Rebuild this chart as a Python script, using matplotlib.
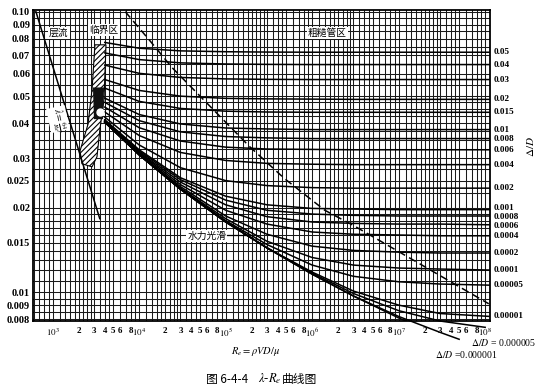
import matplotlib.pyplot as plt
from matplotlib.patches import Polygon
import matplotlib.transforms as mtransforms

plt.rcParams['font.family'] = ['Liberation Serif', 'Noto Sans CJK SC', 'DejaVu Sans']
plt.rcParams['mathtext.fontset'] = 'stix'
plt.rcParams['hatch.linewidth'] = 0.8

re_pts = [4e3, 1e4, 3e4, 1e5, 3e5, 1e6, 3e6, 1e7, 3e7, 1.15e8]

# friction factor for each relative roughness (Delta/D)
lam_05 = [0.0777, 0.0741, 0.0725, 0.0720, 0.0718, 0.0717, 0.0717, 0.0717, 0.0717, 0.0717]
lam_04 = [0.0713, 0.0675, 0.0657, 0.0651, 0.0649, 0.0648, 0.0648, 0.0648, 0.0648, 0.0648]
lam_03 = [0.0645, 0.0603, 0.0583, 0.0576, 0.0574, 0.0573, 0.0573, 0.0573, 0.0573, 0.0573]
lam_02 = [0.0573, 0.0524, 0.0500, 0.0491, 0.0489, 0.0488, 0.0487, 0.0487, 0.0487, 0.0487]
lam_015 = [0.0534, 0.0479, 0.0452, 0.0442, 0.0439, 0.0438, 0.0438, 0.0438, 0.0438, 0.0438]
lam_01 = [0.0492, 0.0430, 0.0398, 0.0385, 0.0382, 0.0380, 0.0380, 0.0380, 0.0380, 0.0380]
lam_008 = [0.0475, 0.0409, 0.0373, 0.0359, 0.0355, 0.0353, 0.0353, 0.0353, 0.0353, 0.0353]
lam_006 = [0.0457, 0.0386, 0.0346, 0.0329, 0.0324, 0.0323, 0.0322, 0.0322, 0.0322, 0.0322]
lam_004 = [0.0439, 0.0362, 0.0315, 0.0295, 0.0288, 0.0286, 0.0285, 0.0285, 0.0285, 0.0285]
lam_002 = [0.0421, 0.0335, 0.0278, 0.0250, 0.0240, 0.0236, 0.0235, 0.0235, 0.0235, 0.0235]
lam_001 = [0.0412, 0.0322, 0.0256, 0.0220, 0.0205, 0.0199, 0.0198, 0.0197, 0.0197, 0.0197]
lam_0008 = [0.0410, 0.0319, 0.0252, 0.0213, 0.0196, 0.0190, 0.0188, 0.0187, 0.0187, 0.0187]
lam_0006 = [0.0409, 0.0316, 0.0247, 0.0205, 0.0186, 0.0178, 0.0176, 0.0175, 0.0175, 0.0174]
lam_0004 = [0.0407, 0.0314, 0.0242, 0.0196, 0.0175, 0.0164, 0.0161, 0.0160, 0.0159, 0.0159]
lam_0002 = [0.0406, 0.0311, 0.0238, 0.0187, 0.0161, 0.0146, 0.0141, 0.0139, 0.0138, 0.0138]
lam_0001 = [0.0405, 0.0310, 0.0235, 0.0183, 0.0152, 0.0133, 0.0125, 0.0122, 0.0121, 0.0120]
lam_00005 = [0.0405, 0.0309, 0.0234, 0.0180, 0.0148, 0.0125, 0.0114, 0.0109, 0.0107, 0.0106]
lam_00001 = [0.0404, 0.0309, 0.0233, 0.0179, 0.0144, 0.0118, 0.0101, 0.0090, 0.0084, 0.0082]
lam_smooth = [0.0404, 0.0309, 0.0233, 0.0178, 0.0144, 0.0116, 0.0097, 0.0081, 0.0070, 0.0060]

rough_curves = [lam_05, lam_04, lam_03, lam_02, lam_015, lam_01, lam_008, lam_006,
                lam_004, lam_002, lam_001, lam_0008, lam_0006, lam_0004, lam_0002,
                lam_0001, lam_00005, lam_00001]
rough_labels = ['0.05', '0.04', '0.03', '0.02', '0.015', '0.01', '0.008', '0.006',
                '0.004', '0.002', '0.001', '0.0008', '0.0006', '0.0004', '0.0002',
                '0.0001', '0.00005', '0.00001']
# small vertical nudges (points) where labels crowd together
label_nudge = {'0.001': 1.2, '0.0008': -0.8, '0.0006': -1.2}

# two curves that run out below the frame
re_5e6 = [4e3, 1e4, 3e4, 1e5, 3e5, 1e6, 3e6, 1e7, 3e7, 1e8]
lam_5e6 = [0.0404, 0.0309, 0.0233, 0.0178, 0.0144, 0.0117, 0.0099, 0.0086, 0.0079, 0.0075]
re_1e6 = [4e3, 1e4, 3e4, 1e5, 3e5, 1e6, 3e6, 1e7, 3e7, 5e7]
lam_1e6 = [0.0404, 0.0309, 0.0233, 0.0178, 0.0144, 0.0116, 0.0097, 0.0082, 0.0072, 0.0068]

# laminar line
re_lam = [640, 3500]
lam_lam = [0.100, 0.0183]

# boundary of the rough-pipe zone (dashed)
re_bound = [6.9e3, 1.33e4, 2.4e4, 5.5e4, 1.9e5, 4.8e5, 1.4e6, 3.0e6, 1.7e7, 4.2e7, 1.1e8]
lam_bound = [0.100, 0.0788, 0.0632, 0.0487, 0.0330, 0.0254, 0.0196, 0.0173, 0.0127, 0.0108, 0.0091]

# critical zone band
band_re = [3.08e3, 4.13e3, 3.92e3, 3.52e3, 3.25e3, 2.85e3, 2.18e3, 2.07e3, 2.56e3, 2.85e3]
band_lam = [0.0762, 0.0762, 0.0487, 0.0382, 0.0304, 0.0280, 0.0287, 0.0319, 0.0397, 0.0528]
dark_re = [2.92e3, 3.92e3, 3.82e3, 3.0e3]
dark_lam = [0.0537, 0.0537, 0.0414, 0.0414]

# axis ticks
ytick_vals = [0.1, 0.09, 0.08, 0.07, 0.06, 0.05, 0.04, 0.03, 0.025, 0.02, 0.015, 0.01, 0.009, 0.008]
ytick_labels = ['0.10', '0.09', '0.08', '0.07', '0.06', '0.05', '0.04', '0.03', '0.025',
                '0.02', '0.015', '0.01', '0.009', '0.008']
x_mant = [1, 2, 3, 4, 5, 6, 8]
decades = [3, 4, 5, 6, 7]

fig = plt.figure(figsize=(5.41, 3.88), dpi=100)
ax = fig.add_axes([33 / 541, 1 - 321 / 388, 457 / 541, 311 / 388])
ax.set_xscale('log')
ax.set_yscale('log')
ax.set_xlim(592, 1.137e8)
ax.set_ylim(0.0079, 0.1014)

# dense chart grid
grid_mant = [1, 1.2, 1.4, 1.6, 1.8, 2, 2.25, 2.5, 2.75, 3, 3.5, 4, 4.5, 5, 6, 7, 8, 9]
xgrid = [m * 10 ** d for d in range(2, 9) for m in grid_mant]
xgrid = [v for v in xgrid if 592 < v < 1.137e8]
ygrid = ([0.05 + 0.005 * i for i in range(11)] + [0.02 + 0.0025 * i for i in range(12)]
         + [0.01 + 0.001 * i for i in range(10)] + [0.008 + 0.0005 * i for i in range(4)])
for v in xgrid:
    ax.axvline(v, color='#1a1a1a', lw=0.75, zorder=1)
for v in ygrid:
    ax.axhline(v, color='#1a1a1a', lw=0.75, zorder=1)

xticks, xlabels = [], []
for d in decades:
    for m in x_mant:
        xticks.append(m * 10 ** d)
        xlabels.append(r'$10^{%d}$' % d if m == 1 else str(m))
xticks.append(1e8)
xlabels.append(r'$10^{8}$')
ax.set_xticks(xticks)
ax.set_xticklabels(xlabels)
ax.xaxis.set_minor_locator(plt.NullLocator())
ax.set_yticks(ytick_vals)
ax.set_yticklabels(ytick_labels)
ax.yaxis.set_minor_locator(plt.NullLocator())
ax.tick_params(length=0, labelsize=7.5)
ax.tick_params(axis='x', pad=4, labelsize=6.5)
ax.tick_params(axis='y', pad=2)
for lab in ax.get_xticklabels() + ax.get_yticklabels():
    lab.set_fontweight('bold')
for s in ax.spines.values():
    s.set_linewidth(1.3)

# critical zone
ax.add_patch(Polygon(list(zip(band_re, band_lam)), closed=True, facecolor='white',
                     edgecolor='k', hatch='//////', lw=0.8, zorder=3))
ax.add_patch(Polygon(list(zip(dark_re, dark_lam)), closed=True, facecolor='#111111',
                     edgecolor='none', zorder=3.5))
ax.plot([3.54e3], [0.0438], 'o', color='white', ms=5, zorder=6)

# curves
trans = mtransforms.blended_transform_factory(ax.transAxes, ax.transData)
for lam, lab in zip(rough_curves, rough_labels):
    ax.plot(re_pts, lam, color='k', lw=1.1, zorder=4)
    ax.annotate(lab, xy=(1.007, lam[-1]), xycoords=trans,
                xytext=(0, label_nudge.get(lab, 0)), textcoords='offset points',
                ha='left', va='center', fontsize=6.6, fontweight='bold',
                annotation_clip=False)
ax.plot(re_pts, lam_smooth, color='k', lw=1.1, zorder=4)
ax.plot(re_5e6, lam_5e6, color='k', lw=1.1, zorder=4, clip_on=False)
ax.plot(re_1e6, lam_1e6, color='k', lw=1.1, zorder=4, clip_on=False)
ax.plot(re_lam, lam_lam, color='k', lw=1.1, zorder=4)
ax.plot(re_bound, lam_bound, color='k', lw=1.1, ls=(0, (5, 3)), zorder=4)

# annotations
cjk = ['Noto Sans CJK SC', 'DejaVu Sans']
box = dict(facecolor='white', edgecolor='none', pad=0.8)
ax.text(1.18e3, 0.084, '层流', family=cjk, fontsize=7, ha='center', va='center',
        bbox=box, zorder=5)
ax.text(3.92e3, 0.0862, '临界区', family=cjk, fontsize=7, ha='center', va='center',
        bbox=box, zorder=5)
ax.text(1.49e6, 0.084, '粗糙管区', family=cjk, fontsize=7, ha='center', va='center',
        bbox=box, zorder=5)
ax.text(6.08e4, 0.0159, '水力光滑', family=cjk, fontsize=7, ha='center', va='center',
        bbox=box, zorder=5)
ax.plot([1.03e5, 1.76e5], [0.0160, 0.0160], color='k', lw=0.9, zorder=5)
ax.text(1.15e3, 0.0414, r'$\lambda=\frac{64}{Re}$', fontsize=7, rotation=-78,
        ha='center', va='center', bbox=dict(facecolor='white', edgecolor='none', pad=0.5),
        zorder=5)

fig.text(530 / 541, 1 - 147 / 388, r'$\Delta/D$', rotation=90, fontsize=8,
         ha='center', va='center')
fig.text(504 / 541, 1 - 343 / 388, r'$\Delta/D$ = 0.000005', fontsize=7,
         ha='center', va='center')
fig.text(466 / 541, 1 - 354 / 388, r'$\Delta/D$ =0.000001', fontsize=7,
         ha='center', va='center')
fig.text(256 / 541, 1 - 351 / 388, r'$R_e = \rho VD/\mu$', fontsize=7.5,
         ha='center', va='center')

# caption, split so the Chinese text is set in a CJK face
fig.text(227 / 541, 1 - 379 / 388, '图 6-4-4', family=cjk, fontsize=8.5,
         ha='center', va='center')
fig.text(270 / 541, 1 - 379 / 388, r'$\lambda$-$R_e$', fontsize=9,
         ha='center', va='center')
fig.text(299 / 541, 1 - 379 / 388, '曲线图', family=cjk, fontsize=8.5,
         ha='center', va='center')

fig.savefig('out.png', dpi=100)
